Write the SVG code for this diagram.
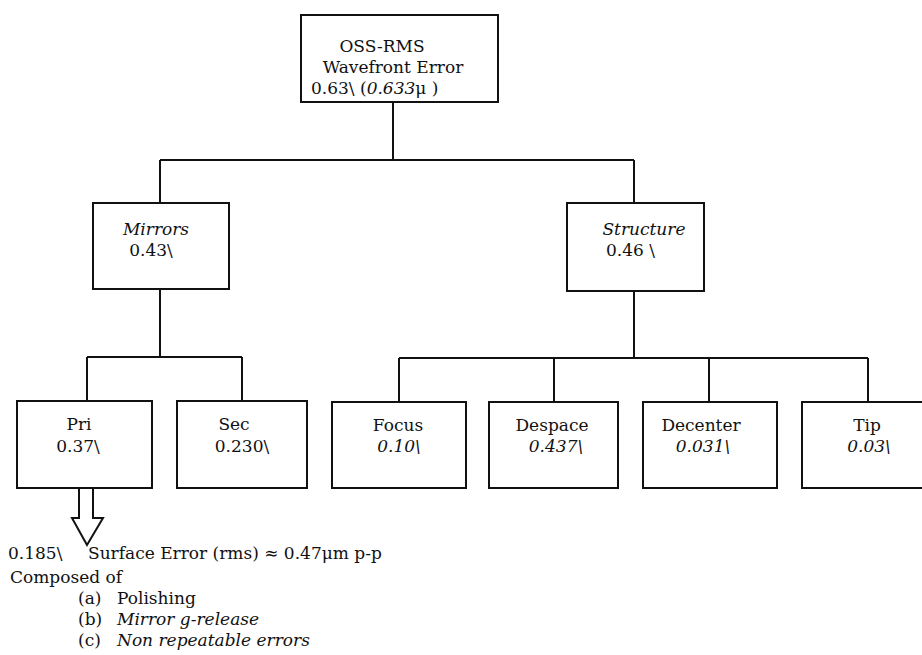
<svg xmlns="http://www.w3.org/2000/svg" width="922" height="655" viewBox="0 0 922 655">
<style>
.box{fill:#fff;stroke:#111;stroke-width:2}
.ln{fill:none;stroke:#111;stroke-width:2}
text{font-family:"DejaVu Serif","Liberation Serif",serif;font-size:17px;fill:#111}
.c{text-anchor:middle}
.i{font-style:italic}
</style>
<rect width="922" height="655" fill="#fff"/>
<g id="connectors">
<path class="ln" d="M393 102V160M160 160H634M160 160V203M634 160V203"/>
<path class="ln" d="M160 289V357M87 357H242M87 357V401M242 357V401"/>
<path class="ln" d="M634 291V358M399 358H868M399 358V402M554 358V402M709 358V402M868 358V402"/>
<path class="ln" d="M79 488V518H72L87 545L103 518H93V488" stroke-linejoin="miter"/>
</g>
<g id="n-top">
<rect class="box" x="301" y="15" width="197" height="87"/>
<text class="c" x="382" y="52">OSS-RMS</text>
<text class="c" x="393" y="73">Wavefront Error</text>
<text x="311" y="94">0.63\ (<tspan class="i">0.633</tspan>μ )</text>
</g>
<g id="n-mirrors">
<rect class="box" x="93" y="203" width="136" height="86"/>
<text class="c i" x="156" y="235">Mirrors</text>
<text class="c" x="151" y="256">0.43\</text>
</g>
<g id="n-structure">
<rect class="box" x="567" y="203" width="137" height="88"/>
<text class="c i" x="644" y="235">Structure</text>
<text x="606" y="256">0.46 \</text>
</g>
<g id="n-pri">
<rect class="box" x="17" y="401" width="135" height="87"/>
<text class="c" x="79" y="430">Pri</text>
<text class="c" x="78" y="452">0.37\</text>
</g>
<g id="n-sec">
<rect class="box" x="177" y="401" width="130" height="87"/>
<text class="c" x="234" y="430">Sec</text>
<text class="c" x="242" y="452">0.230\</text>
</g>
<g id="n-focus">
<rect class="box" x="332" y="402" width="134" height="86"/>
<text class="c" x="398" y="431">Focus</text>
<text class="c i" x="399" y="452">0.10\</text>
</g>
<g id="n-despace">
<rect class="box" x="489" y="402" width="129" height="86"/>
<text class="c" x="552" y="431">Despace</text>
<text class="c i" x="556" y="452">0.437\</text>
</g>
<g id="n-decenter">
<rect class="box" x="643" y="402" width="134" height="86"/>
<text class="c" x="701" y="431">Decenter</text>
<text class="c i" x="703" y="452">0.031\</text>
</g>
<g id="n-tip">
<rect class="box" x="802" y="402" width="140" height="86"/>
<text class="c" x="867" y="431">Tip</text>
<text class="c i" x="869" y="452">0.03\</text>
</g>
<g id="notes">
<text x="8" y="559">0.185\</text>
<text x="88" y="559">Surface Error (rms) ≈ 0.47μm p-p</text>
<text x="10" y="583">Composed of</text>
<text x="78" y="604">(a)</text><text x="117" y="604">Polishing</text>
<text x="78" y="625">(b)</text><text class="i" x="117" y="625">Mirror g-release</text>
<text x="78" y="646">(c)</text><text class="i" x="117" y="646">Non repeatable errors</text>
</g>
</svg>
